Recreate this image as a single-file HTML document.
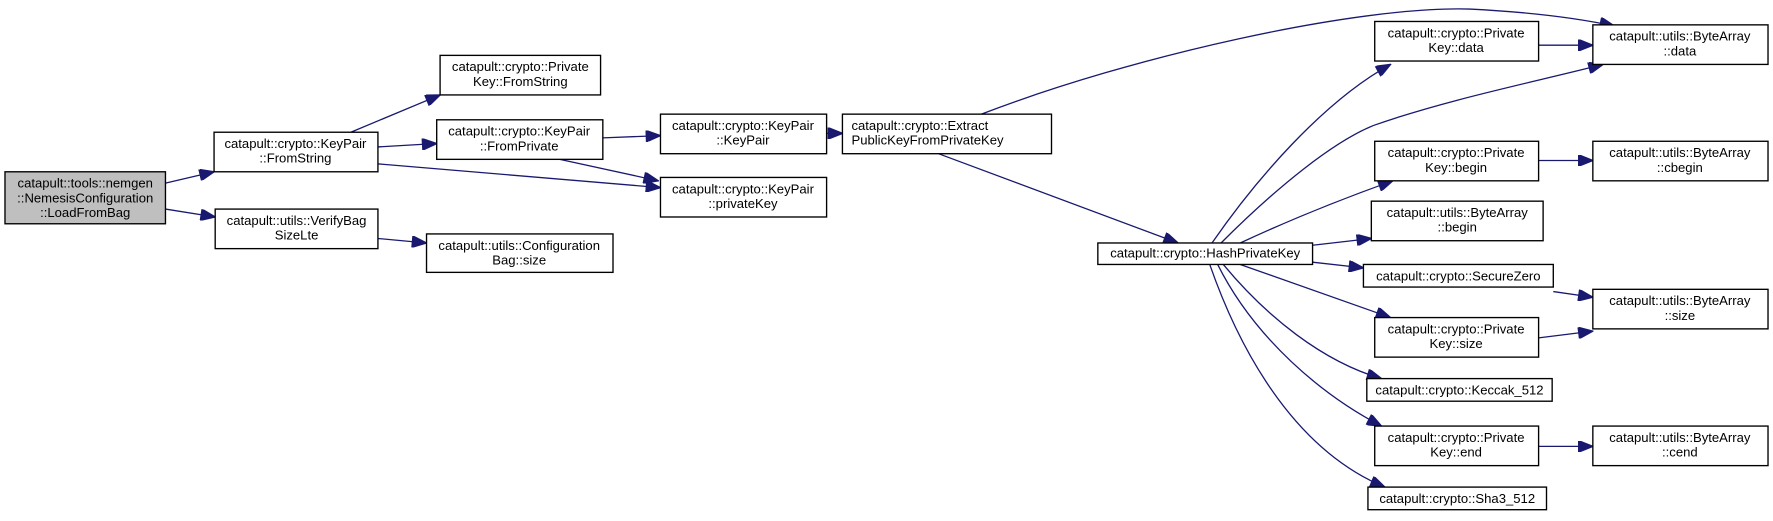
<!DOCTYPE html>
<html><head><meta charset="utf-8"><style>
html,body{margin:0;padding:0;background:#fff;}
svg{display:block;}
text{font-family:"Liberation Sans",Arial,sans-serif;font-size:11.6px;fill:#000;text-anchor:middle;}
rect{fill:#fff;stroke:#000;stroke-width:1.2;}
path.e{fill:none;stroke:#191970;stroke-width:1.15;marker-end:url(#a);}
</style></head><body>
<svg width="1773" height="521" viewBox="0 0 1568 461" xmlns="http://www.w3.org/2000/svg">
<defs><marker id="a" viewBox="0 0 10 8" refX="10" refY="4" markerWidth="14" markerHeight="10" markerUnits="userSpaceOnUse" orient="auto"><path d="M0,0 L10,4 L0,8 z" fill="#191970" stroke="#191970"/></marker></defs>
<path class="e" d="M146,162 L189,152"/>
<path class="e" d="M146,185 L190,192"/>
<path class="e" d="M310,117 L389,84"/>
<path class="e" d="M334,130 L386,127"/>
<path class="e" d="M334,145 L584,166"/>
<path class="e" d="M533,122 L584,120"/>
<path class="e" d="M495,141 L582,160"/>
<path class="e" d="M334,211 L377,215"/>
<path class="e" d="M731,118 L745,118"/>
<path class="e" d="M868,101 C1000,50 1200,5 1300,8 C1360,11 1400,17 1428,23"/>
<path class="e" d="M830,136 L1042,215"/>
<path class="e" d="M1072,215 C1110,160 1170,90 1230,57"/>
<path class="e" d="M1080,215 C1130,165 1180,125 1215,111 C1280,88 1360,72 1418,57"/>
<path class="e" d="M1097,215 C1140,195 1190,175 1232,160"/>
<path class="e" d="M1161,217 L1213,211"/>
<path class="e" d="M1161,232 L1206,237"/>
<path class="e" d="M1097,234 L1230,281"/>
<path class="e" d="M1082,234 C1120,280 1170,320 1222,335"/>
<path class="e" d="M1077,234 C1110,300 1170,350 1222,377"/>
<path class="e" d="M1070,234 C1100,320 1150,400 1225,431"/>
<path class="e" d="M1361,40 L1409,40"/>
<path class="e" d="M1361,142 L1409,142"/>
<path class="e" d="M1374,258 L1409,263"/>
<path class="e" d="M1361,299 L1409,293"/>
<path class="e" d="M1361,395 L1409,395"/>
<rect x="4" y="152" width="142" height="46" style="fill:#bfbfbf"/>
<text x="75" y="166">catapult::tools::nemgen</text><text x="75" y="179">::NemesisConfiguration</text><text x="75" y="192">::LoadFromBag</text>
<rect x="189" y="117" width="145" height="35"/><text x="261" y="131">catapult::crypto::KeyPair</text><text x="261" y="144">::FromString</text>
<rect x="190" y="185" width="144" height="35"/><text x="262" y="199">catapult::utils::VerifyBag</text><text x="262" y="212">SizeLte</text>
<rect x="389" y="49" width="142" height="35"/><text x="460" y="63">catapult::crypto::Private</text><text x="460" y="76">Key::FromString</text>
<rect x="386" y="106" width="147" height="35"/><text x="459" y="120">catapult::crypto::KeyPair</text><text x="459" y="133">::FromPrivate</text>
<rect x="377" y="207" width="165" height="34"/><text x="459" y="221">catapult::utils::Configuration</text><text x="459" y="234">Bag::size</text>
<rect x="584" y="101" width="147" height="35"/><text x="657" y="115">catapult::crypto::KeyPair</text><text x="657" y="128">::KeyPair</text>
<rect x="584" y="157" width="147" height="35"/><text x="657" y="171">catapult::crypto::KeyPair</text><text x="657" y="184">::privateKey</text>
<rect x="745" y="101" width="185" height="35"/><text x="753" y="115" style="text-anchor:start">catapult::crypto::Extract</text><text x="753" y="128" style="text-anchor:start">PublicKeyFromPrivateKey</text>
<rect x="971" y="215" width="190" height="19"/><text x="1066" y="228">catapult::crypto::HashPrivateKey</text>
<rect x="1216" y="19" width="145" height="35"/><text x="1288" y="33">catapult::crypto::Private</text><text x="1288" y="46">Key::data</text>
<rect x="1409" y="22" width="155" height="35"/><text x="1486" y="36">catapult::utils::ByteArray</text><text x="1486" y="49">::data</text>
<rect x="1216" y="125" width="145" height="35"/><text x="1288" y="139">catapult::crypto::Private</text><text x="1288" y="152">Key::begin</text>
<rect x="1409" y="125" width="155" height="35"/><text x="1486" y="139">catapult::utils::ByteArray</text><text x="1486" y="152">::cbegin</text>
<rect x="1213" y="178" width="152" height="35"/><text x="1289" y="192">catapult::utils::ByteArray</text><text x="1289" y="205">::begin</text>
<rect x="1206" y="234" width="168" height="20"/><text x="1290" y="248">catapult::crypto::SecureZero</text>
<rect x="1409" y="256" width="155" height="35"/><text x="1486" y="270">catapult::utils::ByteArray</text><text x="1486" y="283">::size</text>
<rect x="1216" y="281" width="145" height="35"/><text x="1288" y="295">catapult::crypto::Private</text><text x="1288" y="308">Key::size</text>
<rect x="1209" y="335" width="164" height="20"/><text x="1291" y="349">catapult::crypto::Keccak_512</text>
<rect x="1216" y="377" width="145" height="35"/><text x="1288" y="391">catapult::crypto::Private</text><text x="1288" y="404">Key::end</text>
<rect x="1409" y="377" width="155" height="35"/><text x="1486" y="391">catapult::utils::ByteArray</text><text x="1486" y="404">::cend</text>
<rect x="1210" y="431" width="158" height="20"/><text x="1289" y="445">catapult::crypto::Sha3_512</text>
</svg>
</body></html>
